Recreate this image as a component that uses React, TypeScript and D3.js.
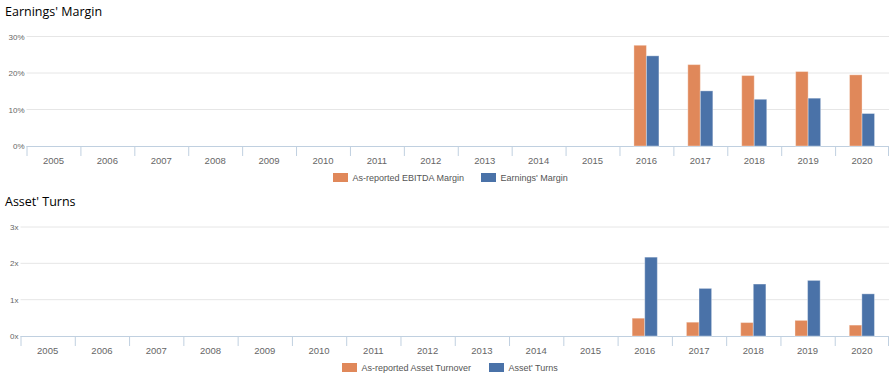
import React from "react";
import * as d3 from "d3";

const years = ["2005","2006","2007","2008","2009","2010","2011","2012","2013","2014","2015","2016","2017","2018","2019","2020"];
const ebitdaMargin: (number | null)[] = [null,null,null,null,null,null,null,null,null,null,null,27.6,22.3,19.3,20.4,19.5];
const earningsMargin: (number | null)[] = [null,null,null,null,null,null,null,null,null,null,null,24.7,15.1,12.8,13.1,8.9];
const assetTurnover: (number | null)[] = [null,null,null,null,null,null,null,null,null,null,null,0.49,0.38,0.37,0.43,0.30];
const assetTurns: (number | null)[] = [null,null,null,null,null,null,null,null,null,null,null,2.17,1.31,1.43,1.53,1.16];
const marginTicks = [0, 10, 20, 30];
const turnTicks = [0, 1, 2, 3];

const ORANGE = "#E0885A";
const BLUE = "#4A72A8";

type PanelProps = {
  title: string;
  left: number;
  right: number;
  y0: number;
  y1: number;
  ticks: number[];
  fmt: (v: number) => string;
  a: (number | null)[];
  b: (number | null)[];
  nameA: string;
  nameB: string;
  legendA: number;
  legendB: number;
  legendY: number;
  labelY: number;
  titleY: number;
};

function Panel(p: PanelProps) {
  const x = d3.scaleBand<string>().domain(years).range([p.left, p.right]);
  const y = d3.scaleLinear().domain([0, p.ticks[p.ticks.length - 1]]).range([p.y0, p.y1]);
  const bw = x.bandwidth() * 0.232;
  return (
    <g>
      <text x={5} y={p.titleY} fontFamily="Open Sans" fontSize={12.5} fill="#000">{p.title}</text>
      {p.ticks.map((t) => (
        <g key={t}>
          {t > 0 && <line x1={p.left} x2={p.right} y1={y(t)} y2={y(t)} stroke="#e6e6e6" strokeWidth={1} />}
          <text x={p.left - 2} y={y(t) + 3} textAnchor="end" fontFamily="Liberation Sans, Arial" fontSize={8} fill="#666">{p.fmt(t)}</text>
        </g>
      ))}
      <line x1={p.left} x2={p.right} y1={p.y0 + 0.5} y2={p.y0 + 0.5} stroke="#C0D0E0" strokeWidth={1} />
      {years.map((yr) => (
        <line key={"t" + yr} x1={(x(yr) as number) + 0.5} x2={(x(yr) as number) + 0.5} y1={p.y0} y2={p.y0 + 10} stroke="#C0D0E0" />
      ))}
      <line x1={p.right - 0.5} x2={p.right - 0.5} y1={p.y0} y2={p.y0 + 10} stroke="#C0D0E0" />
      {years.map((yr) => (
        <text key={"l" + yr} x={(x(yr) as number) + x.bandwidth() / 2} y={p.labelY} textAnchor="middle" fontFamily="Liberation Sans, Arial" fontSize={9.5} fill="#666">{yr}</text>
      ))}
      {years.map((yr, i) => {
        const c = (x(yr) as number) + x.bandwidth() / 2;
        const va = p.a[i];
        const vb = p.b[i];
        return (
          <g key={"b" + yr}>
            {va != null && (
              <rect x={c - bw} y={y(va)} width={bw} height={p.y0 - y(va)} fill={ORANGE} stroke="#ffffff" strokeOpacity={0.35} strokeWidth={1} />
            )}
            {vb != null && (
              <rect x={c} y={y(vb)} width={bw} height={p.y0 - y(vb)} fill={BLUE} stroke="#ffffff" strokeOpacity={0.35} strokeWidth={1} />
            )}
          </g>
        );
      })}
      <rect x={p.legendA} y={p.legendY - 4.5} width={15} height={9} fill={ORANGE} />
      <text x={p.legendA + 19.5} y={p.legendY + 3.2} fontFamily="Liberation Sans, Arial" fontSize={9} fill="#555">{p.nameA}</text>
      <rect x={p.legendB} y={p.legendY - 4.5} width={15} height={9} fill={BLUE} />
      <text x={p.legendB + 19.5} y={p.legendY + 3.2} fontFamily="Liberation Sans, Arial" fontSize={9} fill="#555">{p.nameB}</text>
    </g>
  );
}

export default function App() {
  return (
    <svg width={896} height={378} style={{ position: "absolute", left: 0, top: 0, background: "#fff" }}>
      <rect width={896} height={378} fill="#fff" />
      <Panel title="Earnings' Margin" titleY={15.5} left={26.5} right={889} y0={146} y1={36.5}
        ticks={marginTicks} fmt={(v) => v + "%"} a={ebitdaMargin} b={earningsMargin}
        nameA="As-reported EBITDA Margin" nameB="Earnings' Margin" legendA={333} legendB={481} legendY={177.5} labelY={164} />
      <Panel title="Asset' Turns" titleY={205.5} left={20.5} right={889} y0={336} y1={227}
        ticks={turnTicks} fmt={(v) => v + "x"} a={assetTurnover} b={assetTurns}
        nameA="As-reported Asset Turnover" nameB="Asset' Turns" legendA={342} legendB={489} legendY={367.5} labelY={354} />
    </svg>
  );
}
